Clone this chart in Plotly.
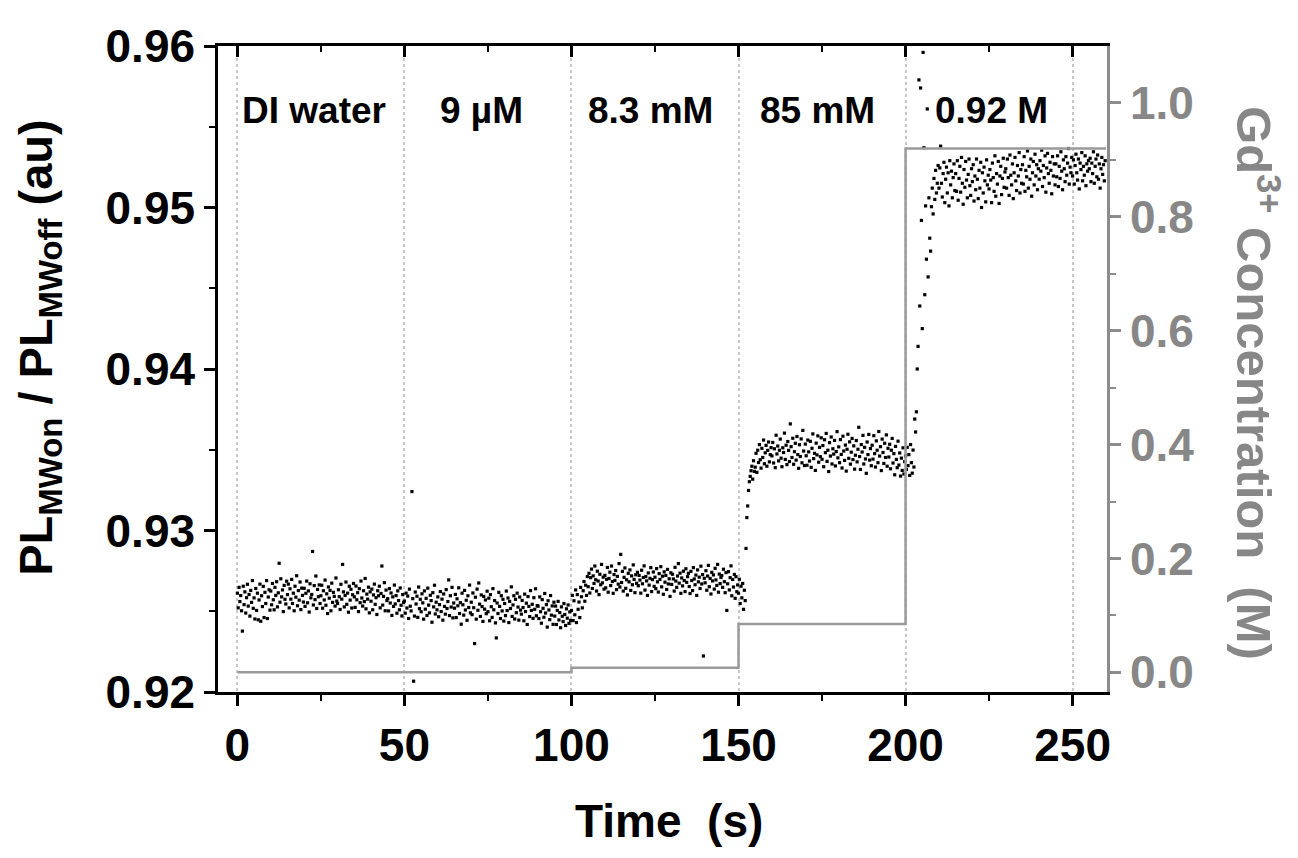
import numpy as np
import plotly.graph_objects as go

# PL ratio, stored as offsets above 0.92 in units of 1e-5,
# sampled every 0.25 s
dt = 0.25
seg_start = [0, 50, 100, 150, 200]

pl_0_50 = [
    612, 521, 648, 560, 597, 503, 377, 655, 541, 620, 489, 584, 667, 532, 604, 470, 629, 555, 690, 518,
    583, 452, 641, 505, 612, 447, 570, 668, 438, 596, 529, 654, 461, 617, 548, 690, 455, 588, 633, 507,
    625, 540, 672, 571, 509, 648, 598, 683, 527, 614, 797, 556, 701, 589, 632, 498, 660, 574, 545, 686,
    603, 668, 521, 639, 575, 697, 548, 612, 503, 655, 587, 720, 534, 628, 569, 681, 510, 643, 598, 557,
    642, 530, 611, 687, 552, 626, 495, 670, 583, 604, 870, 539, 659, 572, 718, 517, 635, 590, 663, 548,
    596, 661, 519, 627, 570, 693, 537, 608, 486, 650, 581, 629, 503, 674, 555, 617, 592, 532, 706, 563,
    548, 633, 590, 511, 667, 575, 790, 620, 527, 598, 681, 543, 612, 494, 655, 569, 636, 520, 602, 672,
    589, 524, 656, 571, 615, 498, 640, 553, 687, 582, 532, 627, 560, 703, 515, 606, 575, 649, 490, 620,
    562, 637, 509, 601, 668, 543, 584, 480, 627, 596, 655, 521, 610, 780, 538, 592, 677, 503, 631, 566,
    578, 502, 640, 551, 613, 474, 589, 530, 662, 545, 597, 488, 626, 566, 509, 644, 537, 471, 603, 555,
]
pl_50_100 = [
    563, 488, 612, 520, 594, 455, 637, 531, 502, 1241, 578, 67, 470, 619, 545, 593, 462, 650, 516, 574,
    497, 608, 552, 451, 626, 513, 580, 474, 643, 538, 490, 599, 566, 432, 615, 527, 661, 483, 556, 509,
    589, 466, 541, 622, 498, 575, 445, 607, 530, 482, 634, 517, 560, 694, 473, 596, 526, 648, 459, 551,
    519, 604, 461, 577, 534, 645, 486, 553, 420, 612, 540, 476, 629, 508, 568, 444, 596, 523, 662, 490,
    556, 479, 613, 522, 300, 587, 451, 637, 506, 675, 544, 468, 601, 529, 437, 592, 513, 570, 485, 624,
    497, 581, 441, 603, 528, 462, 640, 509, 566, 428, 335, 551, 486, 617, 530, 455, 596, 502, 574, 439,
    548, 473, 625, 504, 582, 430, 561, 517, 651, 468, 539, 596, 452, 574, 491, 612, 526, 445, 588, 507,
    482, 567, 523, 441, 606, 498, 550, 418, 591, 530, 467, 628, 505, 543, 456, 584, 512, 639, 472, 535,
    531, 455, 589, 497, 426, 572, 518, 463, 610, 489, 541, 402, 565, 508, 448, 597, 476, 533, 419, 556,
    470, 532, 418, 505, 561, 446, 492, 398, 527, 469, 436, 548, 480, 412, 515, 457, 539, 425, 496, 443,
]
pl_100_150 = [
    505, 598, 442, 565, 478, 632, 430, 603, 512, 557, 461, 648, 590, 521, 627, 684, 562, 661, 598, 715,
    652, 735, 613, 708, 761, 641, 719, 672, 780, 695, 625, 748, 687, 603, 729, 664, 790, 676, 711, 637,
    722, 645, 698, 771, 618, 703, 742, 659, 780, 684, 611, 727, 691, 752, 634, 716, 668, 795, 650, 852,
    678, 747, 625, 710, 768, 642, 695, 601, 735, 682, 756, 629, 719, 664, 787, 697, 615, 726, 673, 741,
    658, 722, 693, 612, 754, 670, 709, 781, 631, 715, 688, 598, 737, 662, 704, 770, 622, 696, 743, 654,
    711, 640, 764, 682, 619, 733, 697, 776, 651, 717, 605, 744, 680, 722, 635, 759, 669, 701, 592, 738,
    666, 729, 700, 625, 772, 687, 648, 718, 795, 674, 736, 611, 706, 657, 748, 690, 622, 763, 679, 714,
    735, 653, 610, 747, 690, 628, 770, 700, 664, 724, 598, 756, 682, 711, 641, 779, 669, 727, 223, 704,
    676, 751, 630, 718, 784, 652, 703, 607, 741, 688, 725, 637, 766, 694, 660, 790, 618, 730, 671, 709,
    721, 648, 760, 683, 615, 739, 505, 670, 745, 632, 708, 781, 596, 697, 650, 728, 580, 714, 621, 663,
]
pl_150_200 = [
    612, 698, 548, 655, 583, 672, 512, 630, 566, 889, 1080, 1152, 1248, 1302, 1335, 1370, 1398, 1318, 1432, 1366,
    1392, 1478, 1360, 1497, 1421, 1532, 1438, 1386, 1509, 1452, 1560, 1413, 1481, 1527, 1398, 1496, 1548, 1425, 1470, 1513,
    1462, 1545, 1418, 1506, 1389, 1590, 1474, 1523, 1431, 1497, 1566, 1448, 1395, 1512, 1483, 1603, 1440, 1528, 1408, 1551,
    1496, 1427, 1660, 1519, 1452, 1571, 1410, 1488, 1540, 1436, 1582, 1470, 1385, 1531, 1458, 1567, 1419, 1620, 1492, 1402,
    1535, 1463, 1404, 1560, 1487, 1430, 1552, 1391, 1509, 1598, 1445, 1478, 1372, 1541, 1468, 1586, 1423, 1515, 1457, 1574,
    1441, 1526, 1395, 1562, 1482, 1601, 1428, 1497, 1365, 1544, 1461, 1579, 1412, 1506, 1473, 1558, 1400, 1489, 1612, 1450,
    1518, 1420, 1563, 1471, 1387, 1584, 1492, 1434, 1529, 1368, 1503, 1596, 1447, 1549, 1411, 1485, 1570, 1439, 1524, 1380,
    1466, 1557, 1425, 1503, 1639, 1458, 1378, 1532, 1486, 1589, 1412, 1515, 1443, 1354, 1548, 1470, 1595, 1436, 1507, 1401,
    1528, 1442, 1587, 1476, 1393, 1555, 1497, 1420, 1613, 1461, 1519, 1371, 1566, 1483, 1415, 1540, 1452, 1592, 1398, 1509,
    1455, 1534, 1382, 1497, 1570, 1418, 1476, 1345, 1521, 1440, 1389, 1553, 1405, 1480, 1337, 1448, 1372, 1512, 1350, 1426,
]
pl_200_260 = [
    1462, 1378, 1515, 1402, 1470, 1341, 1532, 1420, 1355, 1498, 1393, 1690, 1610, 1735, 2000, 2140, 3790, 2390, 3740, 2920,
    2250, 3960, 3370, 2460, 3010, 2680, 3610, 2570, 3060, 2810, 2730, 3005, 3120, 2960, 3180, 3050, 3230, 3090, 3150, 3260,
    3120, 3245, 3380, 3150, 3065, 3210, 3280, 3030, 3175, 3250, 3090, 3215, 3010, 3290, 3140, 3225, 3060, 3185, 3270, 3105,
    3210, 3100, 3290, 3045, 3180, 3255, 3095, 3310, 3150, 3020, 3235, 3125, 3285, 3170, 3060, 3205, 3300, 3135, 3075, 3240,
    3160, 3265, 3040, 3195, 3110, 3300, 3175, 3055, 3230, 3120, 3280, 3000, 3215, 3090, 3250, 3165, 3035, 3295, 3140, 3200,
    3115, 3235, 3170, 3030, 3275, 3185, 3100, 3320, 3070, 3210, 3145, 3285, 3025, 3195, 3255, 3080, 3180, 3305, 3125, 3220,
    3240, 3120, 3300, 3185, 3075, 3325, 3200, 3140, 3270, 3055, 3215, 3310, 3165, 3105, 3260, 3195, 3340, 3090, 3235, 3150,
    3265, 3145, 3315, 3100, 3230, 3190, 3350, 3120, 3255, 3175, 3300, 3070, 3215, 3285, 3140, 3330, 3195, 3265, 3110, 3240,
    3175, 3290, 3225, 3355, 3130, 3260, 3185, 3320, 3095, 3245, 3335, 3210, 3150, 3280, 3230, 3085, 3315, 3195, 3270, 3140,
    3270, 3190, 3320, 3130, 3255, 3180, 3345, 3225, 3110, 3295, 3240, 3160, 3315, 3200, 3275, 3365, 3145, 3250, 3215, 3310,
    3195, 3295, 3145, 3260, 3330, 3215, 3170, 3300, 3115, 3275, 3235, 3340, 3165, 3255, 3200, 3320, 3135, 3270, 3225, 3290,
    3240, 3305, 3160, 3275, 3210, 3345, 3150, 3255, 3300, 3190, 3325, 3175, 3270, 3120, 3240, 3310, 3205, 3265, 3165, 3290,
]

# Gd3+ concentration steps (M)
conc_t = [0, 50, 100, 150, 200, 260]
conc_M = [0.0, 0.000009, 0.0083, 0.085, 0.92, 0.92]

# region labels
region_labels = ["DI water", "9 µM", "8.3 mM", "85 mM", "0.92 M"]
region_label_t = [22.8, 73.2, 123.8, 173.5, 225.6]
region_label_y = 0.95598

segs = [pl_0_50, pl_50_100, pl_100_150, pl_150_200, pl_200_260]
t = np.concatenate([s0 + dt * np.arange(len(s)) for s0, s in zip(seg_start, segs)])
pl = 0.92 + np.concatenate([np.array(s, dtype=float) for s in segs]) / 1e5

FONT = "Liberation Sans, Arial, sans-serif"
GRAY_AX = "#8c8c8c"

fig = go.Figure()
fig.add_trace(go.Scatter(
    x=t, y=pl, mode="markers",
    marker=dict(color="black", size=3.2, symbol="square", line=dict(width=0)),
    xaxis="x", yaxis="y", showlegend=False, hoverinfo="skip",
))
fig.add_trace(go.Scatter(
    x=conc_t, y=conc_M, mode="lines", line_shape="hv",
    line=dict(color="#9a9a9a", width=2.5),
    xaxis="x", yaxis="y2", showlegend=False,
))
# dummy trace to materialise the top axis
fig.add_trace(go.Scatter(x=[None], y=[None], xaxis="x2", yaxis="y", showlegend=False))

xr = [-5.8, 260.3]
tick_font = dict(family=FONT, size=46, color="black", weight="bold")

fig.update_layout(
    width=1282, height=842,
    margin=dict(l=210, r=183, t=27, b=158),
    paper_bgcolor="white", plot_bgcolor="white",
    xaxis=dict(
        range=xr, tickvals=[0, 50, 100, 150, 200, 250],
        showline=True, linecolor="black", linewidth=2.5,
        ticks="outside", ticklen=11, tickwidth=2.5, tickcolor="black",
        minor=dict(tickvals=[25, 75, 125, 175, 225], ticks="outside", ticklen=6, tickwidth=2, tickcolor="black"),
        showgrid=True, gridcolor="#c8c8c8", griddash="dot", gridwidth=1.5,
        zeroline=False, tickfont=tick_font, mirror=False,
    ),
    xaxis2=dict(
        range=xr, overlaying="x", side="top", anchor="y",
        tickvals=[0, 50, 100, 150, 200, 250],
        showline=True, linecolor="black", linewidth=2.5,
        ticks="inside", ticklen=11, tickwidth=2.5, tickcolor="black",
        minor=dict(tickvals=[25, 75, 125, 175, 225], ticks="inside", ticklen=6, tickwidth=2, tickcolor="black"),
        showticklabels=False, showgrid=False, zeroline=False,
    ),
    yaxis=dict(
        range=[0.92, 0.96], tickvals=[0.92, 0.93, 0.94, 0.95, 0.96], tickformat=".2f",
        showline=True, linecolor="black", linewidth=2.5,
        ticks="outside", ticklen=11, tickwidth=2.5, tickcolor="black",
        minor=dict(tickvals=[0.925, 0.935, 0.945, 0.955], ticks="outside", ticklen=6, tickwidth=2, tickcolor="black"),
        showgrid=False, zeroline=False, tickfont=tick_font,
    ),
    yaxis2=dict(
        range=[-0.0345, 1.1], overlaying="y", side="right", anchor="x",
        tickvals=[0, 0.2, 0.4, 0.6, 0.8, 1.0], tickformat=".1f",
        showline=True, linecolor=GRAY_AX, linewidth=2.5,
        ticks="outside", ticklen=11, tickwidth=2.5, tickcolor=GRAY_AX,
        minor=dict(tickvals=[0.1, 0.3, 0.5, 0.7, 0.9], ticks="outside", ticklen=6, tickwidth=2, tickcolor=GRAY_AX),
        showgrid=False, zeroline=False,
        tickfont=dict(family=FONT, size=46, color="#878787", weight="bold"),
    ),
)

annotations = []
for lab, lx in zip(region_labels, region_label_t):
    annotations.append(dict(
        x=lx, y=region_label_y, xref="x", yref="y", text=lab, showarrow=False,
        xanchor="center", yanchor="middle",
        font=dict(family=FONT, size=37, color="black", weight="bold"),
    ))
annotations.append(dict(
    x=0.5068, y=-0.200, xref="paper", yref="paper", text="Time&nbsp; (s)", showarrow=False,
    xanchor="center", yanchor="middle",
    font=dict(family=FONT, size=46, color="black", weight="bold"),
))
annotations.append(dict(
    x=-0.2013, y=0.533, xref="paper", yref="paper",
    text="PL<sub>MWon</sub> / PL<sub>MWoff</sub> (au)", textangle=-90, showarrow=False,
    xanchor="center", yanchor="middle",
    font=dict(family=FONT, size=47, color="black", weight="bold"),
))
annotations.append(dict(
    x=1.1687, y=0.478, xref="paper", yref="paper",
    text="Gd<sup>3+</sup> Concentration&nbsp; (M)", textangle=90, showarrow=False,
    xanchor="center", yanchor="middle",
    font=dict(family=FONT, size=49, color="#878787", weight="bold"),
))
fig.update_layout(annotations=annotations)

fig.write_html("out.html")
